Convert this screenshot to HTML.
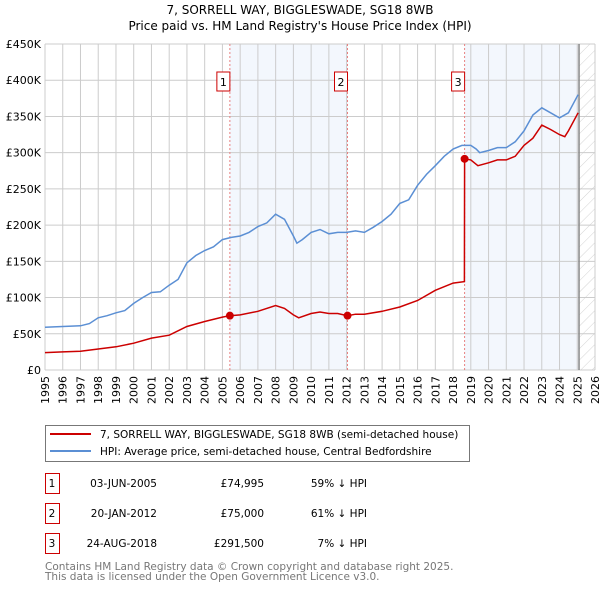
<!DOCTYPE html>
<html><head><meta charset="utf-8"><style>
body{margin:0;background:#fff;font-family:"DejaVu Sans","Liberation Sans",sans-serif;}
svg text{font-family:"DejaVu Sans","Liberation Sans",sans-serif;}
</style></head><body>
<svg id="c" width="600" height="590" viewBox="0 0 600 590">
<defs><pattern id="hatch" width="8" height="8" patternUnits="userSpaceOnUse" patternTransform="rotate(45)"><line x1="0" y1="0" x2="0" y2="8" stroke="#d4d4d4" stroke-width="1"/></pattern></defs>
<text x="300" y="14" text-anchor="middle" font-size="12">7, SORRELL WAY, BIGGLESWADE, SG18 8WB</text>
<text x="300" y="30" text-anchor="middle" font-size="12">Price paid vs. HM Land Registry's House Price Index (HPI)</text>
<g id="plot"></g>
<g>
<rect x="45.5" y="425.5" width="424" height="36" fill="#fff" stroke="#777"/>
<line x1="50" y1="434" x2="91" y2="434" stroke="#cc0000" stroke-width="2"/>
<text x="100" y="438" font-size="10.5">7, SORRELL WAY, BIGGLESWADE, SG18 8WB (semi-detached house)</text>
<line x1="50" y1="451" x2="91" y2="451" stroke="#5b8fd4" stroke-width="2"/>
<text x="100" y="455" font-size="10.5">HPI: Average price, semi-detached house, Central Bedfordshire</text>
</g>
<g id="table" font-size="10.5"></g>
<text x="45" y="570" font-size="10.5" fill="#777">Contains HM Land Registry data © Crown copyright and database right 2025.</text>
<text x="45" y="580" font-size="10.5" fill="#777">This data is licensed under the Open Government Licence v3.0.</text>
</svg>
<script>
const hpiYears=[1995,1996,1997,1997.5,1998,1998.5,1999,1999.5,2000,2000.5,2001,2001.5,2002,2002.5,2003,2003.5,2004,2004.5,2005,2005.5,2006,2006.5,2007,2007.5,2008,2008.5,2009,2009.2,2009.5,2010,2010.5,2011,2011.5,2012,2012.5,2013,2013.5,2014,2014.5,2015,2015.5,2016,2016.5,2017,2017.5,2018,2018.5,2019,2019.3,2019.5,2020,2020.5,2021,2021.5,2022,2022.5,2023,2023.5,2024,2024.5,2025.05];
const hpiValues=[59,60,61,64,72,75,79,82,92,100,107,108,117,125,148,158,165,170,180,183,185,190,198,203,215,208,185,175,180,190,194,188,190,190,192,190,197,205,215,230,235,255,270,282,295,305,310,310,305,300,303,307,307,315,330,352,362,355,348,355,380];
const redYears=[1995,1996,1997,1998,1999,2000,2001,2002,2003,2004,2005,2005.42,2006,2007,2008,2008.5,2009,2009.3,2010,2010.5,2011,2011.5,2012.05,2012.5,2013,2014,2015,2016,2017,2017.5,2018,2018.64,2018.65,2019,2019.4,2020,2020.5,2021,2021.5,2022,2022.5,2023,2023.5,2024,2024.3,2024.5,2025.05];
const redValues=[24,25,26,29,32,37,44,48,60,67,73,75,76,81,89,85,76,72,78,80,78,78,75,77,77,81,87,96,110,115,120,122,291.5,290,282,286,290,290,295,310,320,338,332,325,322,330,355];
const saleYears=[2005.42,2012.05,2018.65];
const saleValues=[74.995,75,291.5];
const saleLabels=["1","2","3"];
const saleDates=["03-JUN-2005","20-JAN-2012","24-AUG-2018"];
const salePrices=["£74,995","£75,000","£291,500"];
const saleDiffs=["59% ↓ HPI","61% ↓ HPI","7% ↓ HPI"];
const yTicks=[0,50,100,150,200,250,300,350,400,450];
const yTickLabels=["£0","£50K","£100K","£150K","£200K","£250K","£300K","£350K","£400K","£450K"];
const xTicks=[1995,1996,1997,1998,1999,2000,2001,2002,2003,2004,2005,2006,2007,2008,2009,2010,2011,2012,2013,2014,2015,2016,2017,2018,2019,2020,2021,2022,2023,2024,2025,2026];
const dataEnd=2025.1;
const X0=45,X1=595,Y0=370,Y1=44;
const sx=y=>X0+(y-1995)/(2026-1995)*(X1-X0);
const sy=v=>Y0-v/450*(Y0-Y1);
const NS="http://www.w3.org/2000/svg";
const plot=document.getElementById('plot');
function mk(tag,at,parent){const e=document.createElementNS(NS,tag);for(const k in at)e.setAttribute(k,at[k]);(parent||plot).appendChild(e);return e;}
let s=mk('rect',{x:sx(saleYears[0]),y:Y1,width:sx(saleYears[1])-sx(saleYears[0]),height:Y0-Y1,fill:'#eef3fc',opacity:0.7});

s=mk('rect',{x:sx(saleYears[2]),y:Y1,width:sx(dataEnd)-sx(saleYears[2]),height:Y0-Y1,fill:'#eef3fc',opacity:0.7});

s=mk('rect',{x:sx(dataEnd),y:Y1,width:X1-sx(dataEnd),height:Y0-Y1,fill:'url(#hatch)'});

xTicks.forEach((t,i)=>{const l=mk('line',{x1:sx(t),x2:sx(t),y1:Y1,y2:Y0,stroke:'#ccc'});

const tx=mk('text',{x:0,y:0,'font-size':11,'text-anchor':'end',transform:`translate(${sx(t)+4},${Y0+6}) rotate(-90)`});tx.textContent=t;
});
yTicks.forEach((t,i)=>{const l=mk('line',{x1:X0,x2:X1,y1:sy(t),y2:sy(t),stroke:'#ccc'});

const tx=mk('text',{x:X0-4,y:sy(t)+4,'font-size':11,'text-anchor':'end'});tx.textContent=yTickLabels[i];
});
const dl=mk('line',{x1:sx(dataEnd),x2:sx(dataEnd),y1:Y1,y2:Y0,stroke:'#888','stroke-width':1.5});

saleYears.forEach((y,i)=>{const l=mk('line',{x1:sx(y),x2:sx(y),y1:Y1,y2:Y0,stroke:'#e88080','stroke-dasharray':'2,2'});

const r=mk('rect',{x:sx(y)-13,y:72,width:13,height:19,fill:'#fff',stroke:'#cc0000'});

const t=mk('text',{x:sx(y)-6.5,y:86,'font-size':11,'text-anchor':'middle'});t.textContent=saleLabels[i];
});
function path(xs,vs){return xs.map((x,i)=>(i?'L':'M')+sx(x).toFixed(1)+','+sy(vs[i]).toFixed(1)).join('');}
const hp=mk('path',{d:path(hpiYears,hpiValues),fill:'none',stroke:'#5b8fd4','stroke-width':1.5});

const rp=mk('path',{d:path(redYears,redValues),fill:'none',stroke:'#cc0000','stroke-width':1.5});

saleYears.forEach((y,i)=>{const c=mk('circle',{cx:sx(y),cy:sy(saleValues[i]),r:4,fill:'#cc0000'});
});
const tb=document.getElementById('table');
const rowY=[483,513,543];
saleLabels.forEach((lab,i)=>{const r=mk('rect',{x:45.5,y:rowY[i]-9.5,width:14,height:20,fill:'#fff',stroke:'#cc0000'},tb);

const cols=[[52,lab,'middle'],[157,saleDates[i],'end'],[264,salePrices[i],'end'],[367,saleDiffs[i],'end']];
cols.forEach(c=>{const t=mk('text',{x:c[0],y:rowY[i]+4,'text-anchor':c[2]},tb);t.textContent=c[1];
});});
</script>
</body></html>
